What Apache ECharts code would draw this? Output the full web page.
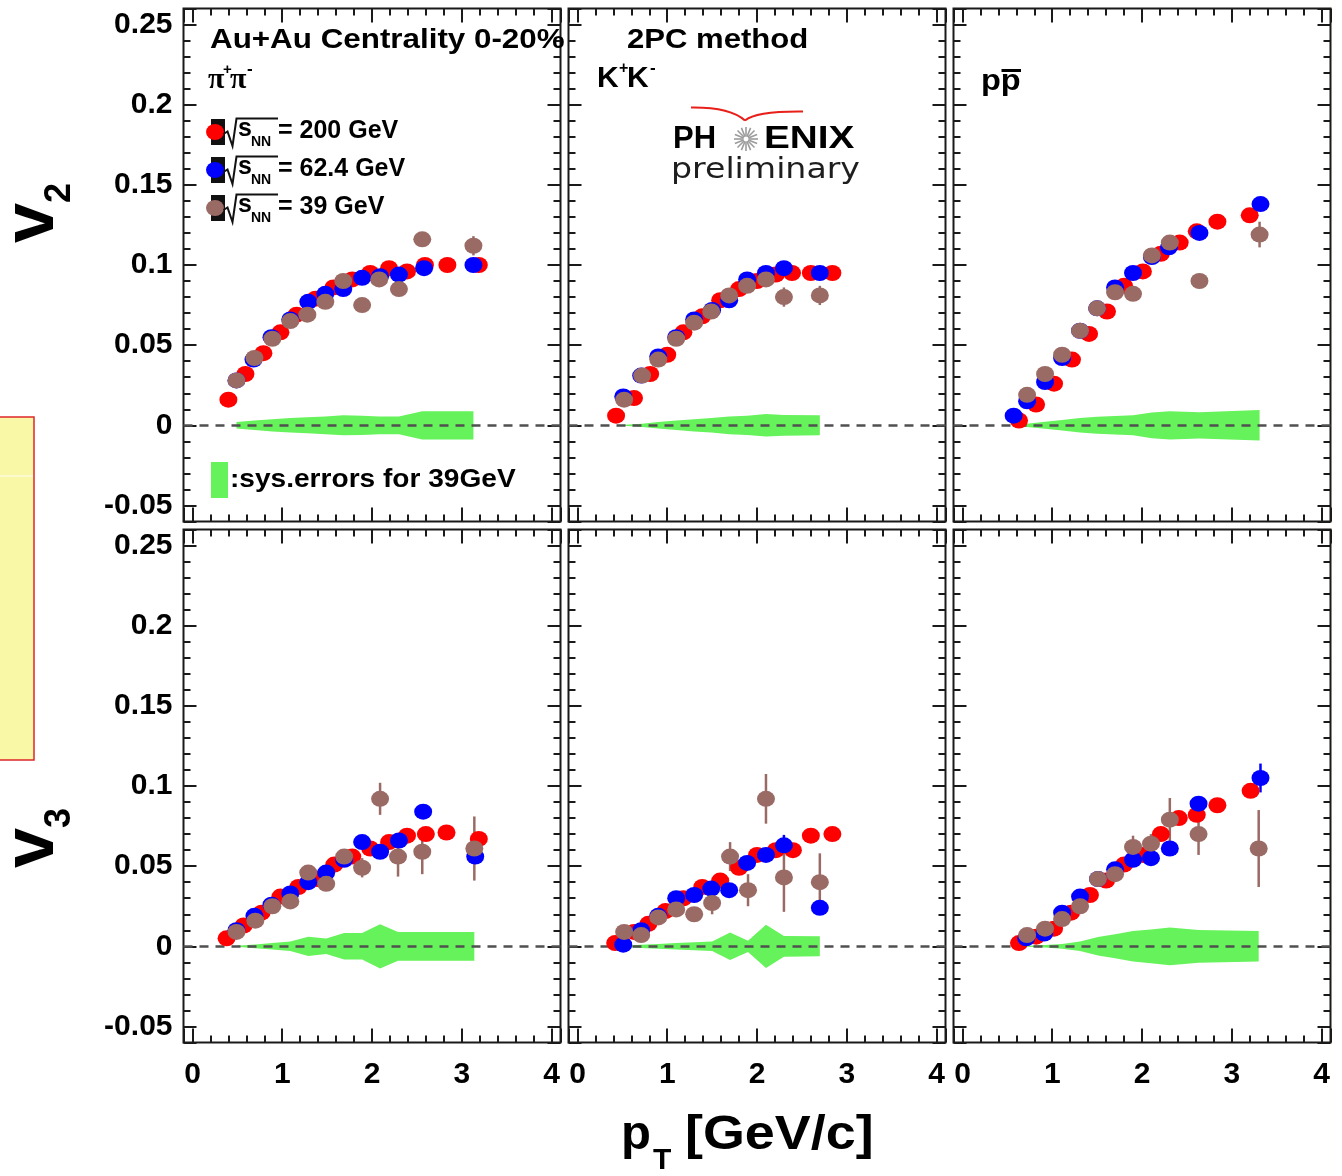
<!DOCTYPE html>
<html><head><meta charset="utf-8">
<script src="https://cdn.jsdelivr.net/npm/echarts@6/dist/echarts.min.js"></script>
<style>html,body{margin:0;padding:0;background:#fff}#c{width:1342px;height:1176px}</style>
</head><body><div id="c"></div>
<script>
// ---------------- data ----------------
const X_TICKS = [0, 1, 2, 3, 4];
const X_TICK_LABELS = ['0', '1', '2', '3', '4'];
const Y_TICKS = [-0.05, 0, 0.05, 0.1, 0.15, 0.2, 0.25];
const Y_TICK_LABELS = ['-0.05', '0', '0.05', '0.1', '0.15', '0.2', '0.25'];
const ENERGY_LABELS = ['= 200 GeV', '= 62.4 GeV', '= 39 GeV'];

// pi+pi- v2
const PI_V2_PT_200 = [0.40,0.59,0.79,0.98,1.16,1.37,1.57,1.78,1.98,2.19,2.39,2.59,2.84,3.19];
const PI_V2_200    = [0.016,0.032,0.045,0.058,0.069,0.079,0.086,0.091,0.095,0.098,0.096,0.100,0.100,0.100];
const PI_V2_PT_62  = [0.49,0.68,0.88,1.09,1.29,1.48,1.68,1.89,2.09,2.30,2.58,3.13];
const PI_V2_62     = [0.028,0.041,0.055,0.066,0.077,0.082,0.085,0.092,0.093,0.094,0.098,0.100];
const PI_V2_PT_39  = [0.49,0.69,0.89,1.09,1.28,1.48,1.68,1.89,2.08,2.30,2.56,3.13];
const PI_V2_39     = [0.028,0.042,0.054,0.065,0.069,0.077,0.090,0.075,0.091,0.085,0.116,0.112];
const PI_V2_ERR_39 = [0,0,0,0,0,0,0,0.002,0.002,0.003,0.004,0.006];
const PI_V2_SYS    = [0.002,0.003,0.0038,0.0045,0.005,0.0055,0.0062,0.006,0.0055,0.0055,0.0088,0.0088];

// K+K- v2
const K_V2_PT_200 = [0.43,0.63,0.81,1.00,1.18,1.39,1.59,1.80,2.00,2.21,2.39,2.60,2.84];
const K_V2_200    = [0.006,0.017,0.032,0.044,0.058,0.068,0.078,0.085,0.090,0.094,0.095,0.095,0.095];
const K_V2_PT_62  = [0.51,0.71,0.90,1.10,1.30,1.50,1.69,1.89,2.10,2.30,2.70];
const K_V2_62     = [0.018,0.031,0.043,0.055,0.066,0.072,0.078,0.091,0.095,0.098,0.095];
const K_V2_PT_39  = [0.52,0.72,0.90,1.10,1.30,1.49,1.69,1.89,2.10,2.30,2.70];
const K_V2_39     = [0.016,0.031,0.041,0.054,0.064,0.071,0.081,0.087,0.091,0.080,0.081];
const K_V2_ERR_39 = [0,0,0,0,0,0,0,0,0,0.006,0.006];
const K_V2_SYS    = [0.0003,0.001,0.002,0.003,0.0038,0.0045,0.0055,0.006,0.007,0.0065,0.0062];

// p pbar v2
const P_V2_PT_200 = [0.63,0.82,1.02,1.22,1.41,1.61,1.80,2.01,2.21,2.42,2.61,2.84,3.20];
const P_V2_200    = [0.003,0.013,0.026,0.041,0.057,0.071,0.087,0.096,0.107,0.114,0.121,0.127,0.131];
const P_V2_PT_62  = [0.57,0.72,0.92,1.11,1.31,1.50,1.70,1.90,2.11,2.30,2.64,3.32];
const P_V2_62     = [0.006,0.015,0.027,0.042,0.059,0.073,0.086,0.095,0.105,0.111,0.120,0.138];
const P_V2_PT_39  = [0.72,0.92,1.11,1.31,1.50,1.70,1.90,2.11,2.31,2.64,3.31];
const P_V2_39     = [0.019,0.032,0.044,0.059,0.073,0.083,0.082,0.106,0.114,0.090,0.119];
const P_V2_ERR_39 = [0,0,0,0,0,0,0,0,0,0,0.008];
const P_V2_SYS_PT = [0.60,0.72,0.92,1.11,1.31,1.50,1.70,1.90,2.11,2.31,2.64,3.31];
const P_V2_SYS    = [0.0003,0.001,0.0022,0.0033,0.0045,0.0053,0.0058,0.0062,0.008,0.0088,0.0082,0.0095];

// pi+pi- v3
const PI_V3_PT_200 = [0.38,0.57,0.77,0.98,1.18,1.39,1.58,1.78,1.98,2.19,2.39,2.60,2.83,3.19];
const PI_V3_200    = [0.005,0.013,0.021,0.031,0.037,0.042,0.051,0.056,0.061,0.065,0.069,0.070,0.071,0.067];
const PI_V3_PT_62  = [0.49,0.69,0.88,1.09,1.29,1.49,1.69,1.89,2.09,2.30,2.57,3.15];
const PI_V3_62     = [0.010,0.019,0.026,0.033,0.040,0.046,0.054,0.065,0.059,0.066,0.084,0.056];
const PI_V3_ERR_62 = [0,0,0,0,0,0,0,0,0,0,0,0.004];
const PI_V3_PT_39  = [0.49,0.70,0.89,1.09,1.29,1.49,1.69,1.89,2.09,2.29,2.56,3.14];
const PI_V3_39     = [0.009,0.016,0.025,0.028,0.046,0.039,0.056,0.049,0.092,0.056,0.059,0.061];
const PI_V3_ERR_39 = [0,0,0,0,0,0,0,0.006,0.010,0.0125,0.014,0.020];
const PI_V3_SYS    = [0.0003,0.0012,0.002,0.003,0.006,0.0048,0.0083,0.0083,0.0138,0.009,0.009,0.009];

// K+K- v3
const K_V3_PT_200 = [0.42,0.63,0.79,0.98,1.18,1.39,1.59,1.80,2.00,2.21,2.40,2.60,2.84];
const K_V3_200    = [0.002,0.009,0.014,0.022,0.030,0.037,0.041,0.049,0.057,0.060,0.060,0.069,0.070];
const K_V3_PT_62  = [0.51,0.71,0.90,1.10,1.30,1.49,1.69,1.89,2.10,2.30,2.70];
const K_V3_62     = [0.001,0.010,0.019,0.030,0.032,0.036,0.035,0.052,0.057,0.063,0.024];
const K_V3_ERR_62 = [0,0,0,0,0,0,0,0,0,0.0065,0.003];
const K_V3_PT_39  = [0.52,0.71,0.90,1.10,1.30,1.50,1.70,1.90,2.10,2.30,2.70];
const K_V3_39     = [0.009,0.007,0.018,0.023,0.020,0.027,0.056,0.035,0.092,0.043,0.040];
const K_V3_ERR_39 = [0,0,0,0,0,0.007,0.009,0.010,0.0155,0.0215,0.018];
const K_V3_SYS    = [0.0003,0.001,0.0015,0.002,0.0025,0.003,0.0086,0.0035,0.0135,0.0065,0.0062];

// p pbar v3
const P_V3_PT_200 = [0.63,0.82,1.02,1.21,1.42,1.60,1.80,2.01,2.21,2.41,2.61,2.84,3.21];
const P_V3_200    = [0.002,0.006,0.011,0.021,0.032,0.041,0.051,0.057,0.070,0.080,0.082,0.088,0.097];
const P_V3_PT_62  = [0.71,0.91,1.11,1.31,1.51,1.70,1.90,2.10,2.31,2.63,3.32];
const P_V3_62     = [0.005,0.008,0.021,0.031,0.042,0.048,0.054,0.055,0.061,0.089,0.105];
const P_V3_ERR_62 = [0,0,0,0,0,0,0,0,0,0,0.009];
const P_V3_PT_39  = [0.72,0.92,1.11,1.31,1.51,1.70,1.90,2.10,2.31,2.63,3.30];
const P_V3_39     = [0.007,0.011,0.017,0.025,0.042,0.045,0.062,0.064,0.079,0.070,0.061];
const P_V3_ERR_39 = [0,0,0,0,0,0,0.007,0.006,0.0135,0.013,0.024];
const P_V3_SYS_PT = [0.62,0.72,0.92,1.11,1.31,1.51,1.70,1.90,2.10,2.31,2.63,3.30];
const P_V3_SYS    = [0,0.0003,0.0008,0.0015,0.003,0.0058,0.0075,0.0095,0.0105,0.0118,0.0102,0.0095];

// ---------------- styling / layout ----------------
const FONT = '"Liberation Sans", Arial, Helvetica, sans-serif';
const SERIF = '"Liberation Serif", "DejaVu Serif", serif';
const RED = '#ff0000', BLUE = '#0000ff', BROWN = '#9a6a65', GREEN = '#66f25a', INK = '#1a1a1a';
const GRID_LEFT = [183.5, 568.5, 953.5];
const GRID_TOP = [8.5, 529.5];
const GRID_W = 377, GRID_H = 513;

const PANELS = [
  {row:0, col:0, d:[[PI_V2_PT_200,PI_V2_200,null],[PI_V2_PT_62,PI_V2_62,null],[PI_V2_PT_39,PI_V2_39,PI_V2_ERR_39]], sys:[PI_V2_PT_39,PI_V2_SYS]},
  {row:0, col:1, d:[[K_V2_PT_200,K_V2_200,null],[K_V2_PT_62,K_V2_62,null],[K_V2_PT_39,K_V2_39,K_V2_ERR_39]], sys:[K_V2_PT_39,K_V2_SYS]},
  {row:0, col:2, d:[[P_V2_PT_200,P_V2_200,null],[P_V2_PT_62,P_V2_62,null],[P_V2_PT_39,P_V2_39,P_V2_ERR_39]], sys:[P_V2_SYS_PT,P_V2_SYS]},
  {row:1, col:0, d:[[PI_V3_PT_200,PI_V3_200,null],[PI_V3_PT_62,PI_V3_62,PI_V3_ERR_62],[PI_V3_PT_39,PI_V3_39,PI_V3_ERR_39]], sys:[PI_V3_PT_39,PI_V3_SYS]},
  {row:1, col:1, d:[[K_V3_PT_200,K_V3_200,null],[K_V3_PT_62,K_V3_62,K_V3_ERR_62],[K_V3_PT_39,K_V3_39,K_V3_ERR_39]], sys:[K_V3_PT_39,K_V3_SYS]},
  {row:1, col:2, d:[[P_V3_PT_200,P_V3_200,null],[P_V3_PT_62,P_V3_62,P_V3_ERR_62],[P_V3_PT_39,P_V3_39,P_V3_ERR_39]], sys:[P_V3_SYS_PT,P_V3_SYS]}
];
const COLORS = [RED, BLUE, BROWN];
const NAMES = ['200 GeV', '62.4 GeV', '39 GeV'];

function lookup(ticks, labels) {
  return v => { const i = ticks.findIndex(t => Math.abs(t - v) < 1e-9); return i >= 0 ? labels[i] : ''; };
}
const fmtX = lookup(X_TICKS, X_TICK_LABELS);
const fmtY = lookup(Y_TICKS, Y_TICK_LABELS);

const tickStyle = {color: INK, width: 2};
const grids = [], xAxes = [], yAxes = [], series = [];

PANELS.forEach((p, g) => {
  grids.push({left: GRID_LEFT[p.col], top: GRID_TOP[p.row], width: GRID_W, height: GRID_H,
    show: true, borderColor: INK, borderWidth: 2, backgroundColor: 'rgba(0,0,0,0)',
    containLabel: false, outerBoundsMode: 'none'});
  ['bottom', 'top'].forEach(pos => xAxes.push({
    gridIndex: g, type: 'value', position: pos, min: -0.1, max: 4.1, minInterval: 1, maxInterval: 1,
    axisLine: {show: false, onZero: false}, splitLine: {show: false}, minorSplitLine: {show: false},
    axisTick: {show: true, inside: true, length: 14, lineStyle: tickStyle},
    minorTick: {show: true, splitNumber: 5, length: 7, lineStyle: tickStyle},
    axisLabel: {show: pos === 'bottom' && p.row === 1, margin: 17, color: '#000', fontSize: 30,
      fontWeight: 'bold', fontFamily: FONT, formatter: fmtX, showMinLabel: false, showMaxLabel: false}
  }));
  ['left', 'right'].forEach(pos => yAxes.push({
    gridIndex: g, type: 'value', position: pos, min: -0.06, max: 0.26, minInterval: 0.05, maxInterval: 0.05,
    axisLine: {show: false, onZero: false}, splitLine: {show: false}, minorSplitLine: {show: false},
    axisTick: {show: true, inside: true, length: 13, lineStyle: tickStyle},
    minorTick: {show: true, splitNumber: 5, length: 7, lineStyle: tickStyle},
    axisLabel: {show: pos === 'left' && p.col === 0, margin: 11, color: '#000', fontSize: 30,
      fontWeight: 'bold', fontFamily: FONT, formatter: fmtY, showMinLabel: false, showMaxLabel: false}
  }));
  const xi = 2 * g, yi = 2 * g;
  const bx = p.sys[0], bw = p.sys[1];
  // systematic band (39 GeV)
  series.push({
    type: 'custom', xAxisIndex: xi, yAxisIndex: yi, silent: true, z: 1, animation: false,
    data: bx.map((x, i) => [x, bw[i]]), encode: {x: 0, y: 1},
    renderItem: (params, api) => {
      if (params.dataIndex !== 0) return null;
      const pts = [];
      for (let i = 0; i < bx.length; i++) pts.push(api.coord([bx[i], bw[i]]));
      for (let i = bx.length - 1; i >= 0; i--) pts.push(api.coord([bx[i], -bw[i]]));
      return {type: 'polygon', shape: {points: pts}, style: {fill: GREEN}};
    }
  });
  // zero line
  series.push({
    type: 'line', xAxisIndex: xi, yAxisIndex: yi, data: [], silent: true, z: 3, animation: false,
    markLine: {silent: true, symbol: ['none', 'none'], label: {show: false}, animation: false, z: 3,
      emphasis: {disabled: true},
      lineStyle: {color: '#505050', width: 2.5, type: [9, 7]}, data: [{yAxis: 0}]}
  });
  p.d.forEach((ds, k) => {
    const [xs, vs, es] = ds;
    const color = COLORS[k];
    if (es) {
      series.push({
        type: 'custom', xAxisIndex: xi, yAxisIndex: yi, silent: true, z: 4, animation: false,
        data: xs.map((x, i) => [x, vs[i], es[i]]), encode: {x: 0, y: 1},
        renderItem: (params, api) => {
          const e = api.value(2);
          if (!(e > 0)) return null;
          const a = api.coord([api.value(0), api.value(1) - e]);
          const b = api.coord([api.value(0), api.value(1) + e]);
          return {type: 'line', shape: {x1: a[0], y1: a[1], x2: b[0], y2: b[1]},
            style: {stroke: color, lineWidth: 2.5}};
        }
      });
    }
    series.push({
      type: 'scatter', name: NAMES[k], xAxisIndex: xi, yAxisIndex: yi, silent: true, z: 4, animation: false,
      symbol: 'circle', symbolSize: [18, 16], itemStyle: {color: color, opacity: 1},
      data: xs.map((x, i) => [x, vs[i]])
    });
  });
});

// ---------------- text / decorations ----------------
function txt(x, y, text, size, o) {
  o = o || {};
  return {type: 'text', x: x, y: y, scaleX: o.sx || 1, rotation: o.rot || 0, z: 100, silent: true,
    style: {text: text, fontSize: size, fontWeight: o.w || 'bold', fontFamily: o.f || FONT, fill: o.c || '#000',
      textAlign: o.align || 'left', align: o.align || 'left', textVerticalAlign: 'middle', verticalAlign: 'middle'}};
}
const graphics = [];
// yellow box at the left edge
graphics.push({type: 'rect', z: 100, silent: true, shape: {x: -2, y: 417, width: 36, height: 343},
  style: {fill: '#f8f8a6', stroke: '#e0262a', lineWidth: 1.5}});
graphics.push({type: 'line', z: 101, silent: true, shape: {x1: 0, y1: 476, x2: 33, y2: 476},
  style: {stroke: 'rgba(255,255,255,0.9)', lineWidth: 1}});

// panel texts
graphics.push(txt(210, 40, 'Au+Au Centrality 0-20%', 28, {sx: 1.12}));
graphics.push(txt(208, 80, 'π', 30, {f: SERIF}));
graphics.push(txt(223, 70, '+', 15));
graphics.push(txt(230, 80, 'π', 30, {f: SERIF}));
graphics.push(txt(247, 69, '-', 17));
graphics.push(txt(627, 40, '2PC method', 28, {sx: 1.11}));
graphics.push(txt(597, 79, 'K', 30));
graphics.push(txt(619, 69, '+', 16));
graphics.push(txt(627, 79, 'K', 30));
graphics.push(txt(650, 68, '-', 17));
graphics.push(txt(981, 82, 'pp', 29, {sx: 1.12}));
graphics.push({type: 'line', z: 100, silent: true, shape: {x1: 1001.5, y1: 70.5, x2: 1021, y2: 70.5},
  style: {stroke: '#000', lineWidth: 3}});

// PHENIX preliminary logo
graphics.push({type: 'bezierCurve', z: 100, silent: true,
  shape: {x1: 691, y1: 107.5, x2: 745, y2: 120.5, cpx1: 730, cpy1: 107},
  style: {stroke: '#e8201a', lineWidth: 2, fill: null}});
graphics.push({type: 'bezierCurve', z: 100, silent: true,
  shape: {x1: 745, y1: 120.5, x2: 803, y2: 111.5, cpx1: 756, cpy1: 111},
  style: {stroke: '#e8201a', lineWidth: 2, fill: null}});
for (let i = 0; i < 16; i++) {
  const a = i * Math.PI / 8;
  graphics.push({type: 'line', z: 100, silent: true,
    shape: {x1: 746 + 2.5 * Math.cos(a), y1: 139 + 2.5 * Math.sin(a), x2: 746 + 12 * Math.cos(a), y2: 139 + 12 * Math.sin(a)},
    style: {stroke: '#9c9c9c', lineWidth: 1.6}});
}
graphics.push(txt(673, 139, 'PH', 31));
graphics.push(txt(764, 139, 'ENIX', 31, {sx: 1.25}));
graphics.push(txt(671, 171, 'preliminary', 28, {w: 'normal', f: '"DejaVu Sans", sans-serif', c: '#1e1e1e', sx: 1.185}));

// legend
const LEG_Y = [132, 170, 208];
LEG_Y.forEach((yc, i) => {
  graphics.push({type: 'rect', z: 100, silent: true, shape: {x: 211, y: yc - 13, width: 14, height: 26}, style: {fill: '#111'}});
  graphics.push({type: 'circle', z: 101, silent: true, x: 215, y: yc, scaleX: 1.12, shape: {cx: 0, cy: 0, r: 8}, style: {fill: COLORS[i]}});
  graphics.push({type: 'polyline', z: 101, silent: true,
    shape: {points: [[223.5, yc + 2], [227.5, yc - 0.5], [232.5, yc + 14], [236.5, yc - 13.5], [278, yc - 13.5]]},
    style: {stroke: '#111', lineWidth: 2, fill: null}});
  graphics.push(txt(238, yc - 3, 's', 25));
  graphics.push(txt(251, yc + 10, 'NN', 14));
  graphics.push(txt(278, yc - 1, ENERGY_LABELS[i], 25));
});
graphics.push({type: 'rect', z: 100, silent: true, shape: {x: 211, y: 462, width: 17, height: 36}, style: {fill: GREEN}});
graphics.push(txt(230, 480, ':sys.errors for 39GeV', 26, {sx: 1.08}));

// axis titles
graphics.push(txt(33, 243, 'v', 72, {rot: Math.PI / 2}));
graphics.push(txt(60, 203, '2', 36, {rot: Math.PI / 2}));
graphics.push(txt(33, 868, 'v', 72, {rot: Math.PI / 2}));
graphics.push(txt(60, 828, '3', 36, {rot: Math.PI / 2}));
graphics.push(txt(621, 1135, 'p', 49));
graphics.push(txt(653, 1161, 'T', 30));
graphics.push(txt(685, 1135, '[GeV/c]', 49, {sx: 1.1}));

const chart = echarts.init(document.getElementById('c'), null, {renderer: 'canvas', width: 1342, height: 1176});
chart.setOption({
  animation: false,
  backgroundColor: '#ffffff',
  textStyle: {fontFamily: FONT},
  grid: grids, xAxis: xAxes, yAxis: yAxes, series: series,
  graphic: {elements: graphics}
});
</script></body></html>
